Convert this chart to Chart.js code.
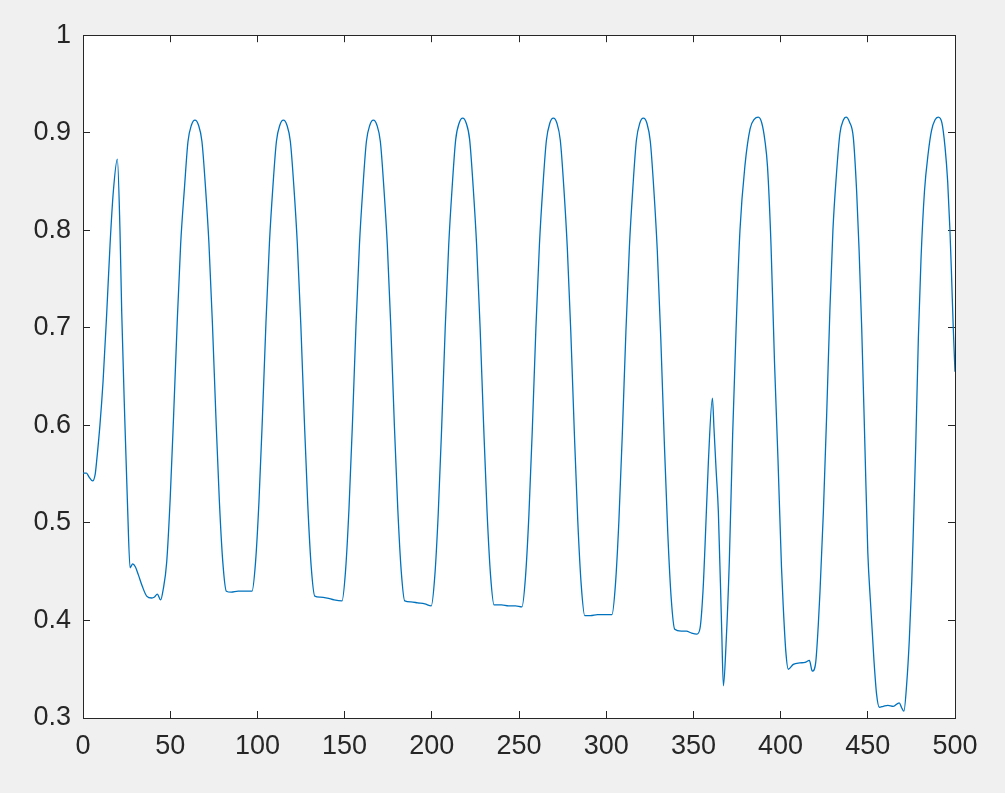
<!DOCTYPE html>
<html>
<head>
<meta charset="utf-8">
<script src="https://cdn.jsdelivr.net/npm/chart.js@4.4.1/dist/chart.umd.min.js"></script>
<style>
  html, body { margin: 0; padding: 0; background: #f0f0f0; }
  #wrap { width: 1005px; height: 793px; }
</style>
</head>
<body>
<div id="wrap"><canvas id="signal-chart" width="1005" height="793"></canvas></div>
<script>
// samples, grouped by cycle (x and y rows line up)
const sampleX = [
  0, 2, 3.5, 5.5, 7, 7.8, 9.7, 11.5, 13.6, 15.5, 17.4, 19.7, 21.2, 22.2, 24, 25.5, 27, 28.5, 30, 31.7, 34, 36.5, 39.4, 41, 42.6, 44.5,
  46, 48, 50, 52, 54, 56, 58.2, 60.2, 62.2, 64.2, 66.2, 68.2, 70.2, 72.2, 74.2, 76.2, 78.2, 80.2, 82.2, 85, 89, 93,
  96.9, 98.9, 100.9, 102.9, 104.9, 106.9, 108.9, 110.9, 112.9, 114.9, 116.9, 118.9, 120.9, 122.9, 124.9, 126.9, 128.9, 130.9, 132.9, 136, 140, 144,
  148.5, 150.5, 152.5, 154.5, 156.5, 158.5, 160.5, 162.5, 164.5, 166.5, 168.5, 170.5, 172.5, 174.5, 176.5, 178.5, 180.5, 182.5, 184.5, 188, 192, 196,
  199.7, 201.7, 203.7, 205.7, 207.7, 209.7, 211.7, 213.7, 215.7, 217.7, 219.7, 221.7, 223.7, 225.7, 227.7, 229.7, 231.7, 233.7, 235.7, 240, 244, 248,
  251.7, 253.7, 255.7, 257.7, 259.7, 261.7, 263.7, 265.7, 267.7, 269.7, 271.7, 273.7, 275.7, 277.7, 279.7, 281.7, 283.7, 285.7, 287.7, 291, 295, 299,
  303.3, 305.3, 307.3, 309.3, 311.3, 313.3, 315.3, 317.3, 319.3, 321.3, 323.3, 325.3, 327.3, 329.3, 331.3, 333.3, 335.3, 337.3, 339.3, 343, 346, 349, 352, 353.8,
  355.5, 356.7, 358.6, 360.9, 361.8, 363, 364.3, 366.2, 367.2, 368.7, 370.6, 372.5, 374.5, 376.7, 379.6, 382.5, 385, 387.2, 389.2, 391, 392.5, 394.5, 396.5, 398.5, 400.5, 401.5, 403, 404.4, 407.3, 411, 414, 416.5, 418.2, 420.1,
  421.6, 422.6, 424.5, 426.4, 428.3, 430, 432, 434, 436, 437.5, 439.5, 441.7, 443.6, 445, 446.5, 448.4, 450, 451.5, 453.5, 455, 456.6, 458.9, 461.5, 464.6, 468, 469.4, 470.7,
  472.3, 473.8, 475.2, 476, 477.5, 479, 480.5, 482.5, 484.7, 486.5, 488.5, 490.4, 492.5, 494.3, 495.8, 497.1, 498, 499, 500
];
const sampleY = [
  .551, .551, .547, .543, .55, .563, .60, .645, .715, .785, .84, .873, .80, .716, .604, .52, .454, .458, .455, .447, .435, .425, .423, .424, .427, .421,
  .432, .46, .525, .612, .705, .786, .844, .891, .908, .913, .908, .891, .845, .787, .705, .609, .522, .459, .43, .429, .43, .43,
  .43, .459, .522, .609, .705, .787, .845, .891, .908, .913, .908, .891, .845, .786, .703, .606, .518, .454, .425, .424, .423, .421,
  .42, .45, .514, .602, .701, .785, .844, .891, .908, .913, .908, .891, .844, .785, .701, .602, .514, .45, .42, .419, .418, .417,
  .415, .445, .51, .60, .70, .785, .845, .893, .91, .915, .91, .893, .845, .785, .70, .601, .511, .446, .416, .416, .415, .415,
  .414, .444, .509, .599, .70, .785, .845, .892, .91, .915, .91, .892, .844, .782, .696, .594, .502, .436, .405, .405, .406, .406,
  .406, .437, .503, .594, .696, .783, .844, .892, .91, .915, .91, .891, .842, .779, .689, .584, .49, .422, .391, .389, .389, .387, .386, .392,
  .43, .478, .563, .628, .597, .555, .512, .392, .333, .375, .461, .59, .70, .80, .867, .904, .914, .916, .91, .892, .865, .785, .665, .565, .455, .415, .368, .35, .355, .3565, .357, .359, .348, .3565,
  .395, .43, .51, .61, .72, .80, .857, .899, .913, .916, .911, .895, .84, .78, .70, .575, .47, .42, .36, .325, .311, .312, .313, .312, .3156, .3105, .307,
  .335, .38, .44, .485, .58, .69, .77, .84, .88, .902, .913, .916, .91, .885, .85, .80, .755, .70, .655
];

const xTicks = [0, 50, 100, 150, 200, 250, 300, 350, 400, 450, 500];
const yTicks = [0.3, 0.4, 0.5, 0.6, 0.7, 0.8, 0.9, 1];

const axisColor = "#262626";
const lineColor = "#0072bd";
const tickFont = { family: "'Liberation Sans', Arial, sans-serif", size: 27 };

// figure background grey, axes area white
const panelBackground = {
  id: "panelBackground",
  beforeDraw(chart) {
    const { ctx, chartArea } = chart;
    ctx.save();
    ctx.fillStyle = "#f0f0f0";
    ctx.fillRect(0, 0, chart.width, chart.height);
    ctx.fillStyle = "#ffffff";
    ctx.fillRect(chartArea.left, chartArea.top, chartArea.right - chartArea.left, chartArea.bottom - chartArea.top);
    ctx.restore();
  }
};

function boxAxis(position, min, max, ticks, size, showLabels) {
  const horizontal = position === "top" || position === "bottom";
  return {
    type: "linear",
    position: position,
    min: min,
    max: max,
    afterBuildTicks: (scale) => { scale.ticks = ticks.map(v => ({ value: v })); },
    afterFit: (scale) => { if (horizontal) scale.height = size; else scale.width = size; },
    grid: { drawOnChartArea: false, drawTicks: true, tickLength: -7, tickColor: axisColor, tickWidth: 1 },
    border: { display: true, color: axisColor, width: 1 },
    ticks: {
      display: showLabels,
      color: axisColor,
      font: tickFont,
      padding: 19,
      maxRotation: 0,
      autoSkip: false,
      callback: (v) => String(v)
    }
  };
}

const points = sampleX.map((x, i) => ({ x: x, y: sampleY[i] }));

new Chart(document.getElementById("signal-chart").getContext("2d"), {
  type: "line",
  data: {
    datasets: [{
      data: points,
      xAxisID: "x",
      yAxisID: "y",
      borderColor: lineColor,
      borderWidth: 1.3,
      pointRadius: 0,
      fill: false,
      cubicInterpolationMode: "monotone"
    }]
  },
  options: {
    responsive: false,
    animation: false,
    layout: { padding: 0 },
    plugins: { legend: { display: false }, tooltip: { enabled: false } },
    scales: {
      x: boxAxis("bottom", 0, 500, xTicks, 75, true),
      x2: boxAxis("top", 0, 500, xTicks, 32, false),
      y: boxAxis("left", 0.3, 1, yTicks, 83, true),
      y2: boxAxis("right", 0.3, 1, yTicks, 50, false)
    }
  },
  plugins: [panelBackground]
});
</script>
</body>
</html>
